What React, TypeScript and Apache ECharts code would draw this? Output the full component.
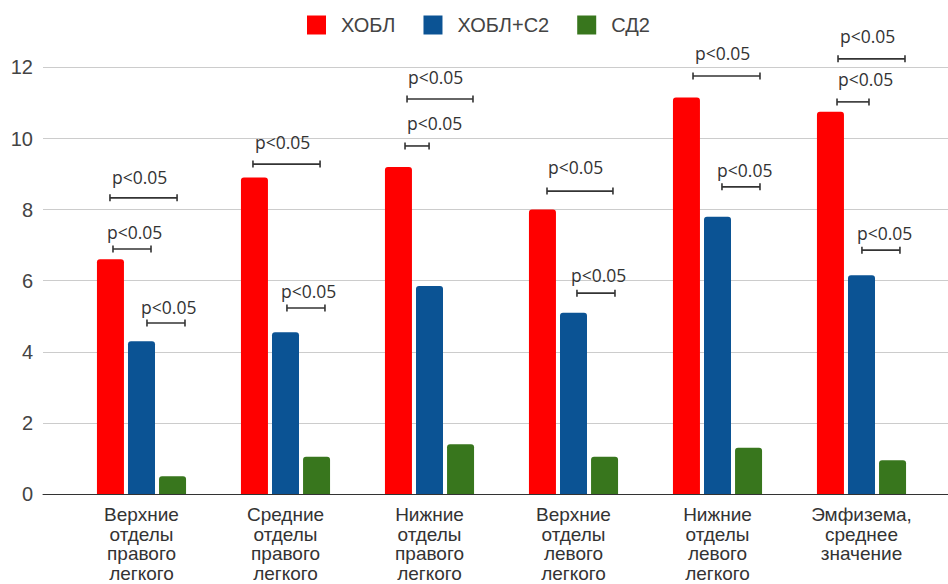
import React, { useEffect, useRef } from "react";
import * as echarts from "echarts";

const categories = [
  "Верхние\nотделы\nправого\nлегкого",
  "Средние\nотделы\nправого\nлегкого",
  "Нижние\nотделы\nправого\nлегкого",
  "Верхние\nотделы\nлевого\nлегкого",
  "Нижние\nотделы\nлевого\nлегкого",
  "Эмфизема,\nсреднее\nзначение",
];
const seriesNames = ["ХОБЛ", "ХОБЛ+С2", "СД2"];
const copd = [6.6, 8.9, 9.2, 8.0, 11.15, 10.75];
const copdC2 = [4.3, 4.55, 5.85, 5.1, 7.8, 6.15];
const dm2 = [0.5, 1.05, 1.4, 1.05, 1.3, 0.95];
const yMin = 0;
const yMax = 12;
const yStep = 2;

// significance annotations: category index, bracket from/to (fraction of category band, relative to center),
// bracket level (axis value), text left (fraction of band), text level (axis value)
const annLabel = "p<0.05";
const annCategory = [0, 0, 0, 1, 1, 2, 2, 3, 3, 4, 4, 5, 5, 5];
const annFrom = [-0.219, -0.198, 0.038, -0.226, 0.01, -0.156, -0.17, -0.184, 0.024, -0.17, 0.031, -0.163, -0.17, 0.003];
const annTo = [0.247, 0.066, 0.302, 0.24, 0.274, 0.302, -0.003, 0.274, 0.288, 0.295, 0.295, 0.302, 0.052, 0.267];
const annLevel = [8.33, 6.89, 4.81, 9.28, 5.23, 11.11, 9.79, 8.52, 5.65, 11.76, 8.64, 12.24, 11.03, 6.86];
const annTextX = [-0.205, -0.24, -0.003, -0.212, -0.031, -0.149, -0.156, -0.177, -0.017, -0.156, -0.003, -0.149, -0.163, -0.031];
const annTextLevel = [8.92, 7.37, 5.26, 9.9, 5.71, 11.73, 10.44, 9.2, 6.16, 12.41, 9.11, 12.88, 11.67, 7.34];

const colors = ["#ff0000", "#0b5394", "#38761d"];
const FONT = "'Liberation Sans', Arial, sans-serif";

export default function App() {
  const ref = useRef<HTMLDivElement>(null);
  useEffect(() => {
    if (!ref.current) return;
    const chart = echarts.init(ref.current, null, { renderer: "svg" });
    const top = 67.4;
    const bottom = 90;
    const values = [copd, copdC2, dm2];
    chart.setOption({
      animation: false,
      color: colors,
      legend: {
        top: 15,
        left: 307,
        padding: 0,
        itemWidth: 19,
        itemHeight: 19,
        itemGap: 28,
        icon: "rect",
        data: seriesNames,
        textStyle: { fontFamily: FONT, fontSize: 20, color: "#444", padding: [0, 0, 0, 10] },
      },
      grid: [
        { left: 43, right: 0, top, bottom, outerBoundsMode: "none", containLabel: false },
        { left: 69.5, right: 14.5, top, bottom, outerBoundsMode: "none", containLabel: false },
      ],
      xAxis: [
        {
          type: "value",
          gridIndex: 0,
          min: 0,
          max: 1,
          axisLine: { show: true, lineStyle: { color: "#333", width: 1 } },
          axisTick: { show: false },
          axisLabel: { show: false },
          splitLine: { show: false },
        },
        {
          type: "category",
          gridIndex: 1,
          data: categories,
          axisLine: { show: false },
          axisTick: { show: false },
          axisLabel: {
            interval: 0,
            margin: 11,
            fontFamily: FONT,
            fontSize: 19,
            lineHeight: 19.5,
            color: "#333",
            align: "center",
          },
        },
      ],
      yAxis: [
        {
          type: "value",
          gridIndex: 0,
          min: yMin,
          max: yMax,
          interval: yStep,
          axisLine: { show: false },
          axisTick: { show: false },
          axisLabel: { margin: 10, fontFamily: FONT, fontSize: 20, color: "#444" },
          splitLine: { lineStyle: { color: "#cccccc", width: 1 } },
        },
        {
          type: "value",
          gridIndex: 1,
          min: yMin,
          max: yMax,
          interval: yStep,
          show: false,
          splitLine: { show: false },
        },
      ],
      series: seriesNames.map((name, i) => ({
        name,
        type: "bar",
        xAxisIndex: 1,
        yAxisIndex: 1,
        data: values[i],
        barWidth: 27,
        barGap: "15%",
        itemStyle: { color: colors[i], borderRadius: [3, 3, 0, 0] },
      })),
    });

    const c0 = chart.convertToPixel({ xAxisIndex: 1, yAxisIndex: 1 }, [0, 0]) as number[];
    const c1 = chart.convertToPixel({ xAxisIndex: 1, yAxisIndex: 1 }, [1, 0]) as number[];
    const band = c1[0] - c0[0];
    const elements: any[] = [];
    annCategory.forEach((cat, i) => {
      const p = chart.convertToPixel({ xAxisIndex: 1, yAxisIndex: 1 }, [cat, annLevel[i]]) as number[];
      const t = chart.convertToPixel({ xAxisIndex: 1, yAxisIndex: 1 }, [cat, annTextLevel[i]]) as number[];
      const x1 = p[0] + annFrom[i] * band;
      const x2 = p[0] + annTo[i] * band;
      const y = p[1];
      const ls = { stroke: "#333", lineWidth: 1.6 };
      elements.push({ type: "line", shape: { x1, y1: y, x2, y2: y }, style: ls, z: 100 });
      elements.push({ type: "line", shape: { x1, y1: y - 3.5, x2: x1, y2: y + 3.5 }, style: ls, z: 100 });
      elements.push({ type: "line", shape: { x1: x2, y1: y - 3.5, x2, y2: y + 3.5 }, style: ls, z: 100 });
      elements.push({
        type: "text",
        x: t[0] + annTextX[i] * band,
        y: t[1],
        style: {
          text: annLabel,
          fill: "#333",
          font: "17.5px 'Open Sans', sans-serif",
          textAlign: "left",
          textVerticalAlign: "middle",
        },
        z: 100,
      });
    });
    chart.setOption({ graphic: { elements } });
    return () => chart.dispose();
  }, []);
  return (
    <div
      ref={ref}
      style={{ position: "fixed", left: 0, top: 0, width: 948, height: 584, background: "#fff" }}
    />
  );
}
